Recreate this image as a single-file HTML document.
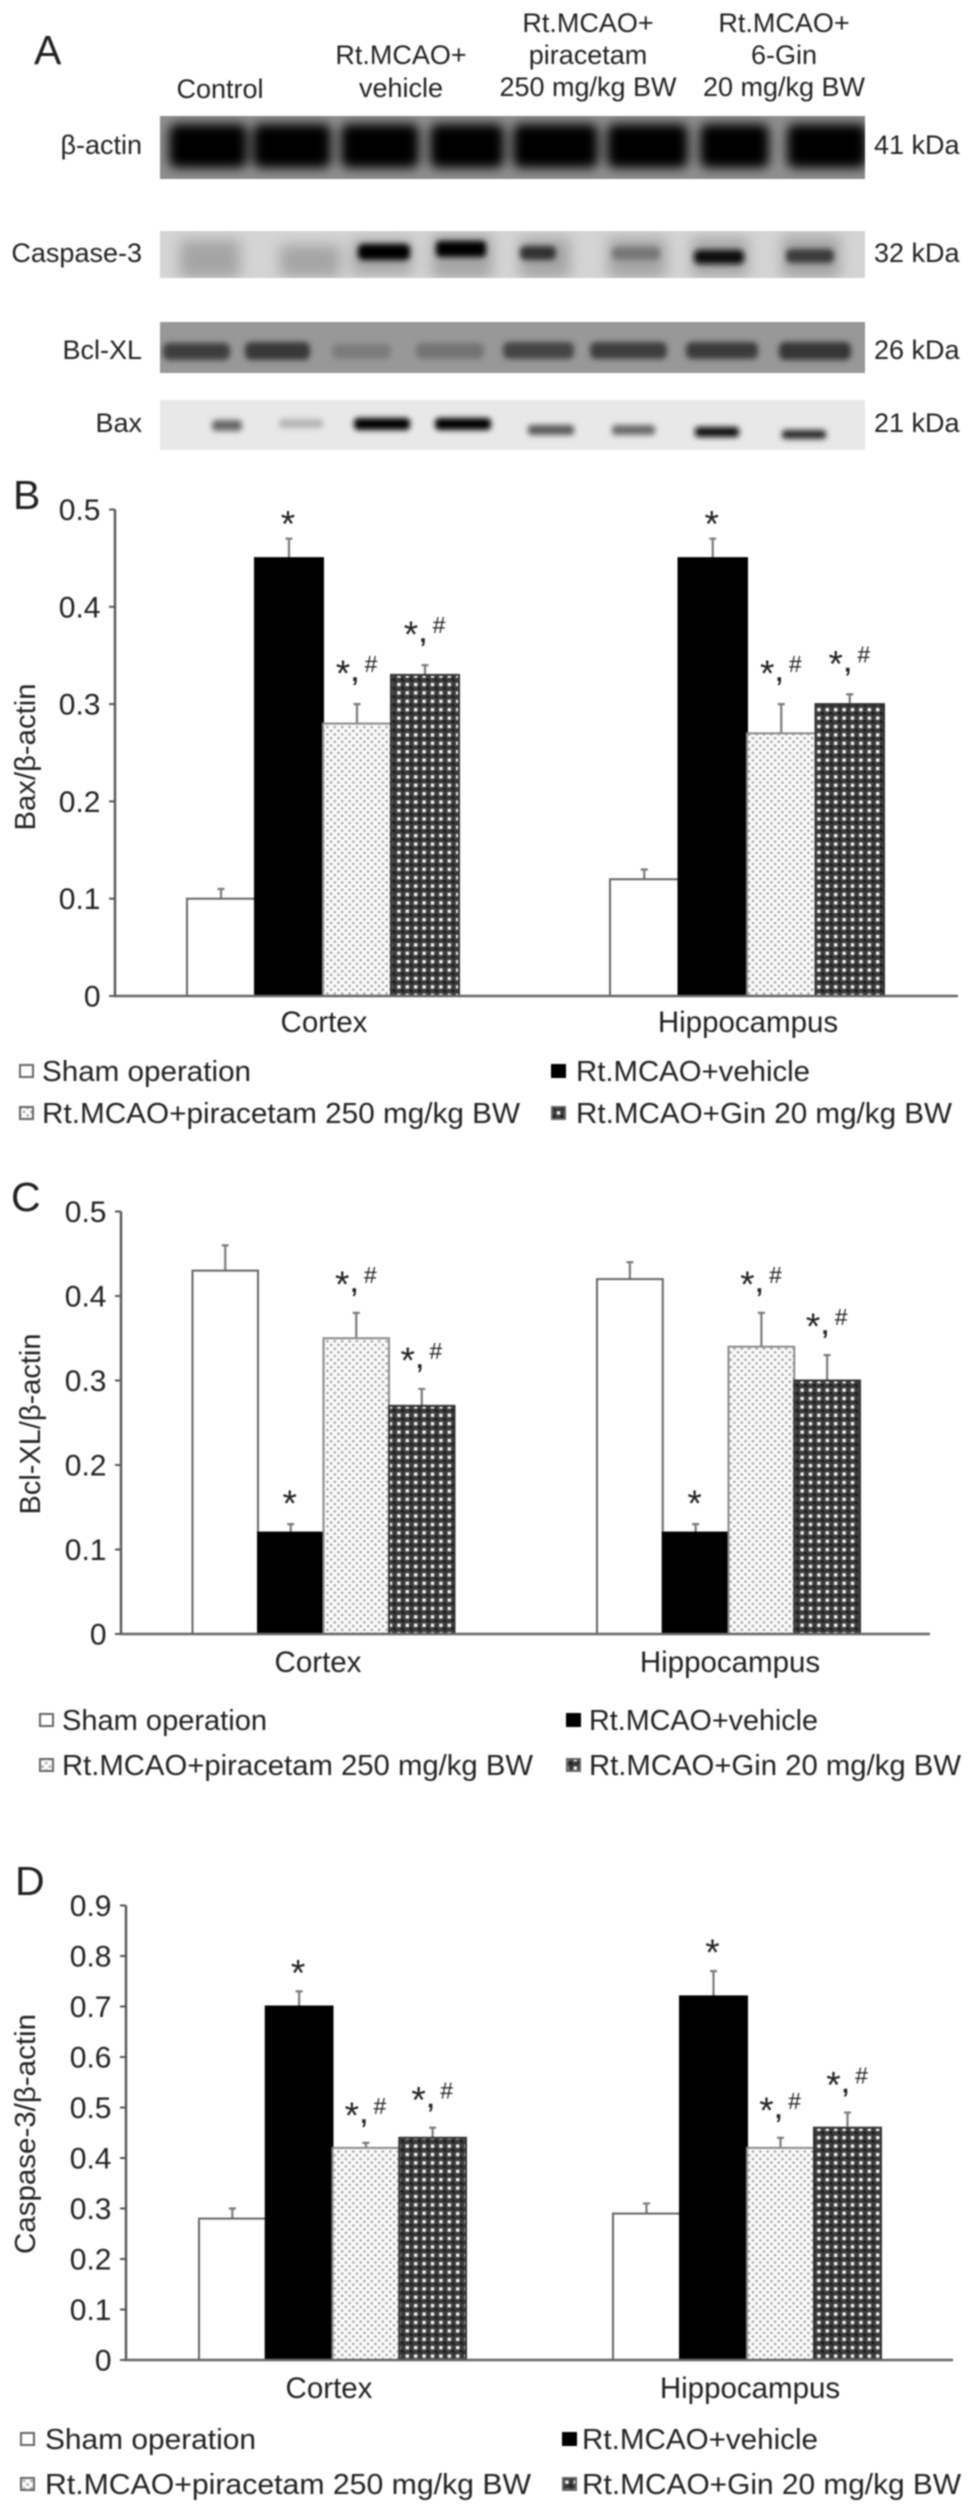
<!DOCTYPE html>
<html lang="en">
<head>
<meta charset="utf-8">
<title>Western blot and densitometry figure</title>
<style>
html,body{margin:0;padding:0;background:#fff;width:969px;height:2512px;overflow:hidden}
svg{display:block;filter:blur(0.8px)}
text{font-family:"Liberation Sans",sans-serif;fill:#222}
</style>
</head>
<body>
<svg id="figure" xmlns="http://www.w3.org/2000/svg" width="969" height="2512" viewBox="0 0 969 2512">
<defs>
<pattern id="lightDots" patternUnits="userSpaceOnUse" width="7.4" height="7.4">
<rect width="7.4" height="7.4" fill="#fbfbfb"/>
<circle cx="1.8" cy="1.8" r="1.35" fill="#a9a9a9"/>
<circle cx="5.5" cy="5.5" r="1.35" fill="#a9a9a9"/>
</pattern>
<pattern id="darkDots" patternUnits="userSpaceOnUse" width="8.4" height="8.4">
<rect width="8.4" height="8.4" fill="#3c3c3c"/>
<rect x="2.4" y="2.4" width="3.4" height="3.4" fill="#f4f4f4"/>
<rect x="6.6" y="6.6" width="1.8" height="1.8" fill="#000"/>
<rect x="0" y="0" width="1.2" height="1.2" fill="#000"/>
</pattern>
<filter id="b2" x="-30%" y="-80%" width="160%" height="260%"><feGaussianBlur stdDeviation="3"/></filter>
<filter id="b4" x="-30%" y="-80%" width="160%" height="260%"><feGaussianBlur stdDeviation="5.5"/></filter>
<filter id="b7" x="-40%" y="-100%" width="180%" height="300%"><feGaussianBlur stdDeviation="7"/></filter>
<clipPath id="clipActin"><rect x="160" y="116" width="705" height="63"/></clipPath>
<clipPath id="clipCasp"><rect x="160" y="231" width="705" height="47"/></clipPath>
<clipPath id="clipBcl"><rect x="160" y="322" width="705" height="51"/></clipPath>
<clipPath id="clipBax"><rect x="160" y="400" width="705" height="50"/></clipPath>
</defs>
<rect width="969" height="2512" fill="#fff"/>

<g id="panelA">
<text x="34" y="64" font-size="41">A</text>
<g font-size="27" text-anchor="middle">
<text x="220" y="98">Control</text>
<text x="401" y="64">Rt.MCAO+</text>
<text x="401" y="97">vehicle</text>
<text x="588" y="32">Rt.MCAO+</text>
<text x="588" y="64">piracetam</text>
<text x="588" y="96">250 mg/kg BW</text>
<text x="784" y="32">Rt.MCAO+</text>
<text x="784" y="64">6-Gin</text>
<text x="784" y="96">20 mg/kg BW</text>
</g>
<g font-size="27" text-anchor="end">
<text x="142" y="154">β-actin</text>
<text x="142" y="262">Caspase-3</text>
<text x="142" y="359">Bcl-XL</text>
<text x="142" y="432">Bax</text>
</g>
<g font-size="27">
<text x="874" y="154">41 kDa</text>
<text x="874" y="262">32 kDa</text>
<text x="874" y="359">26 kDa</text>
<text x="874" y="432">21 kDa</text>
</g>

<g clip-path="url(#clipActin)">
<rect x="160" y="116" width="705" height="63" fill="#8e8e8e"/>
<g filter="url(#b4)" fill="#000">
<rect x="169" y="124" width="78" height="44" rx="8"/>
<rect x="253" y="124" width="78" height="44" rx="8"/>
<rect x="341" y="124" width="78" height="44" rx="8"/>
<rect x="430" y="124" width="74" height="44" rx="8"/>
<rect x="513" y="124" width="85" height="44" rx="8"/>
<rect x="607" y="124" width="81" height="44" rx="8"/>
<rect x="700" y="124" width="69" height="44" rx="8"/>
<rect x="787" y="124" width="80" height="44" rx="8"/>
</g>
</g>

<g clip-path="url(#clipCasp)">
<rect x="160" y="231" width="705" height="47" fill="#d4d4d4"/>
<g filter="url(#b7)" fill="#a4a4a4">
<rect x="180" y="240" width="60" height="38"/>
<rect x="280" y="245" width="60" height="32"/>
<rect x="352" y="240" width="60" height="34"/>
<rect x="432" y="235" width="60" height="43"/>
<rect x="520" y="238" width="50" height="40"/>
<rect x="608" y="238" width="58" height="40"/>
<rect x="692" y="238" width="56" height="38"/>
<rect x="782" y="236" width="58" height="42"/>
</g>
<g filter="url(#b2)">
<rect x="358" y="244" width="52" height="16" rx="5" fill="#000"/>
<rect x="436" y="241" width="50" height="16" rx="4" fill="#000"/>
<rect x="520" y="246" width="36" height="14" rx="5" fill="#333"/>
<rect x="612" y="247" width="48" height="13" rx="5" fill="#777"/>
<rect x="694" y="250" width="50" height="14" rx="5" fill="#111"/>
<rect x="786" y="249" width="48" height="14" rx="5" fill="#3a3a3a"/>
</g>
</g>

<g clip-path="url(#clipBcl)">
<rect x="160" y="322" width="705" height="51" fill="#989898"/>
<g filter="url(#b2)">
<rect x="163" y="343" width="67" height="17" rx="6" fill="#3c3c3c"/>
<rect x="245" y="342" width="65" height="18" rx="6" fill="#383838"/>
<rect x="332" y="344" width="59" height="15" rx="6" fill="#7b7b7b"/>
<rect x="416" y="343" width="68" height="16" rx="6" fill="#737373"/>
<rect x="503" y="342" width="71" height="17" rx="6" fill="#444"/>
<rect x="590" y="342" width="77" height="17" rx="6" fill="#3e3e3e"/>
<rect x="686" y="342" width="72" height="17" rx="6" fill="#3a3a3a"/>
<rect x="779" y="342" width="72" height="18" rx="6" fill="#363636"/>
</g>
</g>

<g clip-path="url(#clipBax)">
<rect x="160" y="400" width="705" height="50" fill="#e8e8e8"/>
<g filter="url(#b2)">
<rect x="212" y="420" width="30" height="11" rx="4" fill="#666"/>
<rect x="279" y="419" width="44" height="9" rx="3" fill="#b4b4b4"/>
<rect x="354" y="418" width="56" height="12" rx="4" fill="#000"/>
<rect x="435" y="418" width="56" height="12" rx="4" fill="#000"/>
<rect x="528" y="425" width="46" height="10" rx="3" fill="#5a5a5a"/>
<rect x="612" y="425" width="43" height="10" rx="3" fill="#6a6a6a"/>
<rect x="695" y="427" width="44" height="10" rx="3" fill="#111"/>
<rect x="782" y="430" width="44" height="9" rx="3" fill="#2a2a2a"/>
</g>
</g>
</g>

<text x="13" y="509" font-size="41">B</text>
<text x="11" y="1211" font-size="41">C</text>
<text x="15" y="1895" font-size="41">D</text>
<g id="charts"></g>
</svg>

<script>
// Shared categories and series
const regions = ['Cortex', 'Hippocampus'];
const treatments = ['Sham operation', 'Rt.MCAO+vehicle', 'Rt.MCAO+piracetam 250 mg/kg BW', 'Rt.MCAO+Gin 20 mg/kg BW'];
const significance = ['', '*', '*,#', '*,#'];

// Panel B: Bax / beta-actin
const baxTicks = [0, 0.1, 0.2, 0.3, 0.4, 0.5];
const baxTickLabels = ['0', '0.1', '0.2', '0.3', '0.4', '0.5'];
const baxCortex = [0.10, 0.45, 0.28, 0.33];
const baxCortexErr = [0.01, 0.02, 0.02, 0.01];
const baxHippocampus = [0.12, 0.45, 0.27, 0.30];
const baxHippocampusErr = [0.01, 0.02, 0.03, 0.01];

// Panel C: Bcl-XL / beta-actin
const bclTicks = [0, 0.1, 0.2, 0.3, 0.4, 0.5];
const bclTickLabels = ['0', '0.1', '0.2', '0.3', '0.4', '0.5'];
const bclCortex = [0.43, 0.12, 0.35, 0.27];
const bclCortexErr = [0.03, 0.01, 0.03, 0.02];
const bclHippocampus = [0.42, 0.12, 0.34, 0.30];
const bclHippocampusErr = [0.02, 0.01, 0.04, 0.03];

// Panel D: Caspase-3 / beta-actin
const caspTicks = [0, 0.1, 0.2, 0.3, 0.4, 0.5, 0.6, 0.7, 0.8, 0.9];
const caspTickLabels = ['0', '0.1', '0.2', '0.3', '0.4', '0.5', '0.6', '0.7', '0.8', '0.9'];
const caspCortex = [0.28, 0.70, 0.42, 0.44];
const caspCortexErr = [0.02, 0.03, 0.01, 0.02];
const caspHippocampus = [0.29, 0.72, 0.42, 0.46];
const caspHippocampusErr = [0.02, 0.05, 0.02, 0.03];

const SVG_NS = 'http://www.w3.org/2000/svg';
const root = document.getElementById('charts');

function make(parent, tag, attrs, content) {
  const node = document.createElementNS(SVG_NS, tag);
  for (const key in attrs) node.setAttribute(key, attrs[key]);
  if (content !== undefined) node.textContent = content;
  parent.appendChild(node);
  return node;
}

const barFills = ['#fff', '#000', 'url(#lightDots)', 'url(#darkDots)'];
const barStrokes = ['#666', '#000', '#8a8a8a', '#333'];

function drawPanel(p) {
  const yScale = v => p.y0 - (v / p.yMax) * (p.y0 - p.yTop);
  const xScale = (g, s) => p.groupX[g] + s * p.step[g];

  const panel = make(root, 'g', {});
  
  

  p.series.forEach((vals, g) => {
    vals.forEach((v, s) => {
      const x0 = xScale(g, s);
      const x1 = xScale(g, s + 1);
      const cx = (x0 + x1) / 2;
      const top = yScale(v);
      const errTop = yScale(v + p.errors[g][s]);

      const whisker = make(panel, 'path', {
        d: 'M' + cx + ' ' + top + 'V' + errTop + 'M' + (cx - 3.5) + ' ' + errTop + 'H' + (cx + 3.5),
        stroke: '#7a7a7a', 'stroke-width': 2.2, fill: 'none'
      });
      
      

      const bar = make(panel, 'rect', {
        x: x0, y: top, width: x1 - x0, height: p.y0 - top,
        fill: barFills[s], stroke: barStrokes[s], 'stroke-width': 2
      });
      
      

      const mark = significance[s];
      if (mark) {
        const gap = mark === '*' ? p.starGap : p.pairGap;
        const cy = errTop - gap;
        const isPair = mark.length > 1;
        const star = make(panel, 'text', {
          x: isPair ? cx - 14 : cx - 1, y: cy + 19, 'font-size': 37,
          'text-anchor': 'middle', fill: '#333'
        }, mark[0]);
        
        
        if (isPair) {
          const comma = make(panel, 'text', {
            x: cx - 2, y: cy + 14, 'font-size': 25,
            'text-anchor': 'middle', 'font-weight': 'bold', fill: '#333'
          }, mark[1]);
          
          
          const hash = make(panel, 'text', {
            x: cx + 14, y: cy + 5, 'font-size': 23,
            'text-anchor': 'middle', fill: '#333'
          }, mark[2]);
          
          
        }
      }
    });
    const region = make(panel, 'text', {
      x: p.regionX[g], y: p.regionY, 'font-size': 29.5, 'text-anchor': 'middle'
    }, regions[g]);
    
    
  });

  const yAxis = make(panel, 'line', {
    x1: p.axisX, x2: p.axisX, y1: yScale(p.yMax), y2: p.y0, stroke: '#555', 'stroke-width': 2.4
  });
  
  

  const xAxis = make(panel, 'line', {
    x1: p.axisX - 1, x2: p.axisEnd, y1: p.y0, y2: p.y0, stroke: '#666', 'stroke-width': 2.4
  });
  
  

  p.ticks.forEach((t, i) => {
    const tick = make(panel, 'line', {
      x1: p.axisX - 6, x2: p.axisX, y1: yScale(t), y2: yScale(t), stroke: '#555', 'stroke-width': 2
    });
    
    
    const label = make(panel, 'text', {
      x: p.axisX - 14.5, y: yScale(t) + 10.5, 'font-size': 30, 'text-anchor': 'end'
    }, p.tickLabels[i]);
    
    
  });

  const title = make(panel, 'text', {
    transform: 'translate(' + p.titleX + ' ' + p.titleY + ') rotate(-90)',
    'font-size': 29, 'text-anchor': 'middle', textLength: p.titleLen, lengthAdjust: 'spacingAndGlyphs'
  }, p.title);
  
  

  treatments.forEach((name, s) => {
    const col = s % 2;
    const row = s > 1 ? 1 : 0;
    const swatch = make(panel, 'rect', {
      x: p.swatchX[col], y: p.legendY[row] - 16, width: 13, height: 12,
      fill: s === 0 ? '#fff' : barFills[s], stroke: s === 1 ? '#000' : '#666', 'stroke-width': 2
    });
    
    
    const entry = make(panel, 'text', {
      x: p.legendX[col], y: p.legendY[row], 'font-size': 29,
      textLength: p.legendLen[s], lengthAdjust: 'spacingAndGlyphs'
    }, name);
    
    
  });
}

drawPanel({
  name: 'bax', title: 'Bax/β-actin', ticks: baxTicks, tickLabels: baxTickLabels, yMax: 0.5,
  series: [baxCortex, baxHippocampus], errors: [baxCortexErr, baxHippocampusErr],
  y0: 996, yTop: 509.5, axisX: 115, axisEnd: 958, groupX: [187, 610], step: [68, 68.5],
  regionX: [324, 748], regionY: 1032, starGap: 21, pairGap: 37,
  titleX: 35, titleY: 757, titleLen: 147,
  swatchX: [20, 552], legendX: [42, 576], legendY: [1081, 1123], legendLen: [209, 234, 478, 376]
});

drawPanel({
  name: 'bcl-xl', title: 'Bcl-XL/β-actin', ticks: bclTicks, tickLabels: bclTickLabels, yMax: 0.5,
  series: [bclCortex, bclHippocampus], errors: [bclCortexErr, bclHippocampusErr],
  y0: 1634, yTop: 1211.5, axisX: 121, axisEnd: 930, groupX: [192.5, 597], step: [65.5, 65.75],
  regionX: [318, 730], regionY: 1672, starGap: 27, pairGap: 35,
  titleX: 40, titleY: 1424, titleLen: 181,
  swatchX: [40, 567], legendX: [62, 589], legendY: [1730, 1775], legendLen: [205, 229, 471, 372]
});

drawPanel({
  name: 'caspase-3', title: 'Caspase-3/β-actin', ticks: caspTicks, tickLabels: caspTickLabels, yMax: 0.9,
  series: [caspCortex, caspHippocampus], errors: [caspCortexErr, caspHippocampusErr],
  y0: 2360, yTop: 1905.5, axisX: 126, axisEnd: 953, groupX: [199, 613], step: [66.75, 67],
  regionX: [329, 750], regionY: 2398, starGap: 25, pairGap: 34,
  titleX: 35, titleY: 2134, titleLen: 240,
  swatchX: [21, 563], legendX: [45, 582], legendY: [2449, 2494], legendLen: [211, 236, 486, 379]
});
</script>
</body>
</html>
